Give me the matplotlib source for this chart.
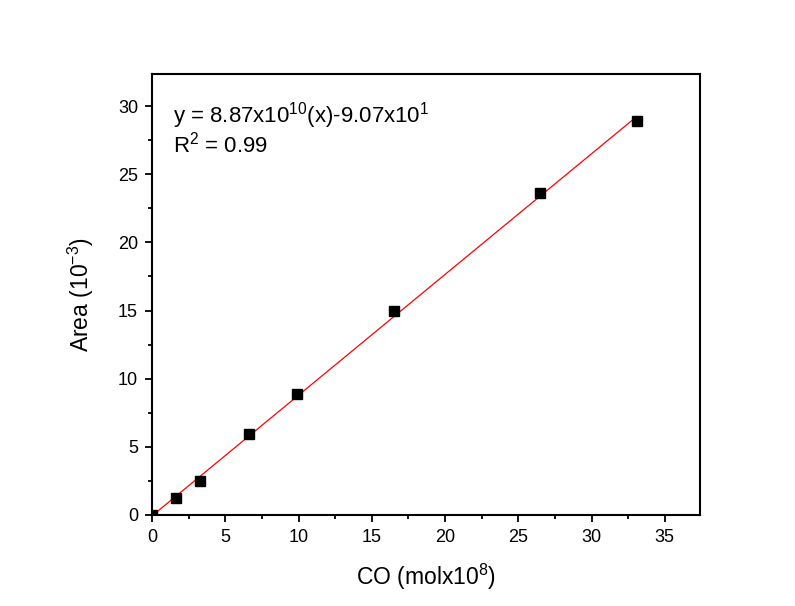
import matplotlib
matplotlib.use("Agg")
import matplotlib.pyplot as plt
import numpy as np
from matplotlib.ticker import MultipleLocator

plt.rcParams['font.family'] = ['Liberation Sans', 'DejaVu Sans']
plt.rcParams['mathtext.fontset'] = 'custom'
plt.rcParams['mathtext.rm'] = 'Liberation Sans'
plt.rcParams['mathtext.it'] = 'Liberation Sans:italic'

# calibration data: CO amount (mol x 1e8) vs peak area
co_amount = [0.0, 1.65, 3.3, 6.6, 9.9, 16.5, 26.5, 33.1]
peak_area = [0.0, 1.2, 2.45, 5.9, 8.9, 14.95, 23.6, 28.9]

# linear fit parameters (area units)
slope = 0.887
intercept = -0.0907

fig = plt.figure(figsize=(7.95, 6.06), dpi=100)
ax = fig.add_axes([0.1912, 0.1507, 0.6893, 0.7277])

xf = np.array([0.0, max(co_amount)])
ax.plot(xf, slope * xf + intercept, color='red', lw=0.9, zorder=2)
ax.plot(co_amount, peak_area, ls='none', marker='s', ms=6.5, color='black', zorder=3)

ax.set_xlim(0, 37.4)
ax.set_ylim(0, 32.4)
ax.xaxis.set_major_locator(MultipleLocator(5))
ax.xaxis.set_minor_locator(MultipleLocator(2.5))
ax.yaxis.set_major_locator(MultipleLocator(5))
ax.yaxis.set_minor_locator(MultipleLocator(2.5))

for s in ax.spines.values():
    s.set_linewidth(1.5)
ax.tick_params(which='major', direction='out', length=5, width=1.3, labelsize=13, pad=5)
ax.tick_params(which='minor', direction='out', length=3, width=1.3)
ax.tick_params(top=False, right=False)

ax.set_xlabel(r'CO (molx10$^{8}$)', fontsize=16.5, labelpad=12)
ax.set_ylabel(r'Area (10$^{-3}$)', fontsize=16.5, labelpad=16)

ax.text(0.038, 0.905, r'y = 8.87x10$^{10}$(x)-9.07x10$^{1}$', transform=ax.transAxes,
        fontsize=16, va='center', ha='left')
ax.text(0.038, 0.84, r'R$^{2}$ = 0.99', transform=ax.transAxes,
        fontsize=16, va='center', ha='left')

fig.savefig('out.png', dpi=100)
